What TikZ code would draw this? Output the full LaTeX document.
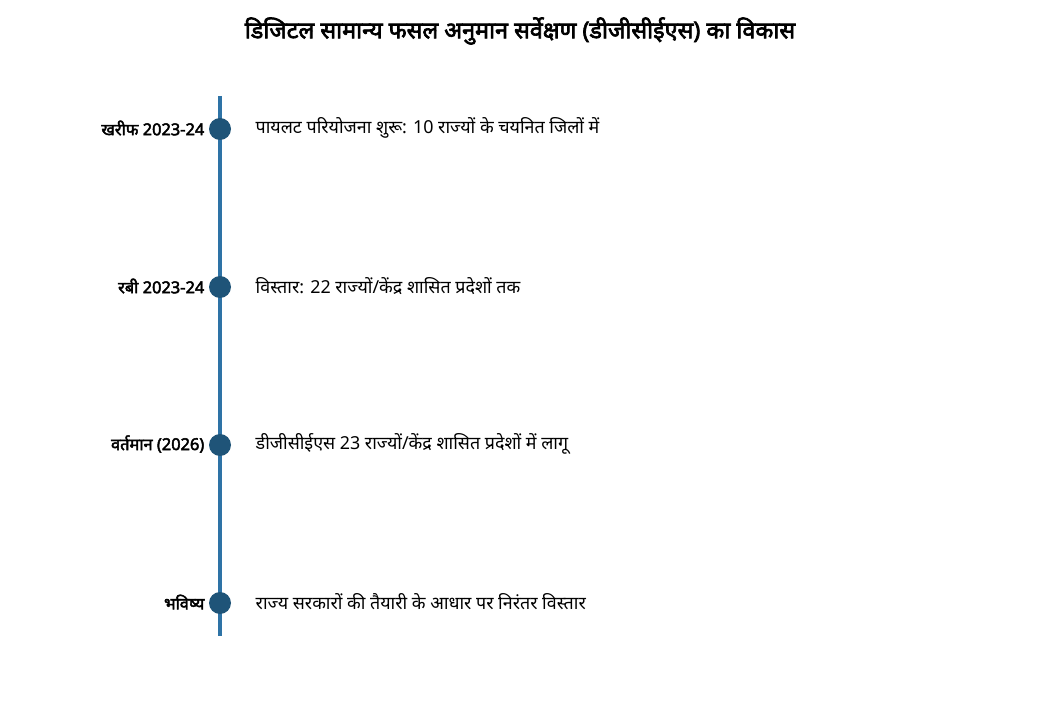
\documentclass[tikz,border=0pt]{standalone}
\usepackage{fontspec}
\setmainfont[Script=Devanagari, BoldFont={Noto Sans}, BoldFeatures={FakeBold=2.8}]{Noto Sans}
\usepackage{tikz}

\definecolor{lineblue}{HTML}{2E73A6}
\definecolor{dotblue}{HTML}{1F5478}

\tikzset{
	dot/.style={circle, fill=dotblue, minimum size=16.5pt, inner sep=0pt},
	when/.style={anchor=east, font=\bfseries\fontsize{12.3}{14}\selectfont},
	what/.style={anchor=west, font=\fontsize{13.4}{15}\selectfont}
}

\begin{document}
\begin{tikzpicture}[x=0.75pt, y=-0.75pt]
				\useasboundingbox (0, 0) rectangle (1040, 702);
				
				% Title
				\node (title) at (520, 31) {\bfseries\fontsize{17.5}{20}\selectfont डिजिटल सामान्य फसल अनुमान सर्वेक्षण (डीजीसीईएस) का विकास};
				
				% Timeline
				\coordinate (top) at (220, 96);
				\coordinate (bottom) at (220, 636);
				\draw[lineblue, line width=3pt] (top) -- (bottom); % vertical line
				
				% Dots
				\node[dot] (d1) at (220, 129) {};
				\node[dot] (d2) at (220, 287) {};
				\node[dot] (d3) at (220, 445) {};
				\node[dot] (d4) at (220, 603) {};
				
				% Dates
				\node[when] (w1) at (209, 128) {खरीफ 2023-24};
				\node[when] (w2) at (209, 286) {रबी 2023-24};
				\node[when] (w3) at (209, 444) {वर्तमान (2026)};
				\node[when] (w4) at (209, 602) {भविष्य};
				
				% Events
				\node[what] (e1) at (251, 128) {पायलट परियोजना शुरू: 10 राज्यों के चयनित जिलों में};
				\node[what] (e2) at (251, 286) {विस्तार: 22 राज्यों/केंद्र शासित प्रदेशों तक};
				\node[what] (e3) at (251, 444) {डीजीसीईएस 23 राज्यों/केंद्र शासित प्रदेशों में लागू};
				\node[what] (e4) at (251, 602) {राज्य सरकारों की तैयारी के आधार पर निरंतर विस्तार};
			\end{tikzpicture}
\end{document}
